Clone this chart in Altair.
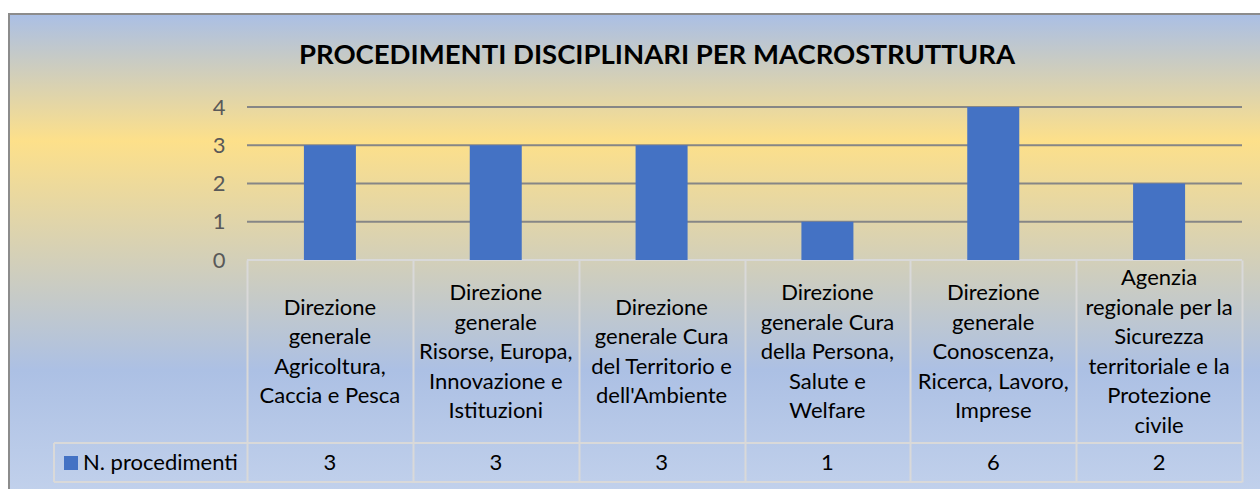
import altair as alt
import pandas as pd

# ---- data ----
categories = [
    "Direzione\ngenerale\nAgricoltura,\nCaccia e Pesca",
    "Direzione\ngenerale\nRisorse, Europa,\nInnovazione e\nIstituzioni",
    "Direzione\ngenerale Cura\ndel Territorio e\ndell'Ambiente",
    "Direzione\ngenerale Cura\ndella Persona,\nSalute e\nWelfare",
    "Direzione\ngenerale\nConoscenza,\nRicerca, Lavoro,\nImprese",
    "Agenzia\nregionale per la\nSicurezza\nterritoriale e la\nProtezione\ncivile",
]
counts = [3, 3, 3, 1, 6, 2]
series_name = "N. procedimenti"
y_ticks = [0, 1, 2, 3, 4]
title_text = "PROCEDIMENTI DISCIPLINARI PER MACROSTRUTTURA"

df = pd.DataFrame({
    "key": [f"c{i}" for i in range(len(categories))],
    "label": categories,
    "value": counts,
    "series": [series_name] * len(categories),
})
ticks_df = pd.DataFrame({"tick": y_ticks})

W, H = 995, 153
FONT = "Lato"
LINE_H = 29.5

xscale = alt.Scale(domain=list(df["key"]), paddingInner=0, paddingOuter=0)
yscale = alt.Scale(domain=[0, 4], nice=False)
yaxis = alt.Axis(values=y_ticks, format="d", domain=False, ticks=False, grid=False,
                 labelPadding=22, labelFontSize=22, labelColor="#595959",
                 labelFont=FONT, labelOverlap=False, labelFlush=False, zindex=1)

gradient = alt.LinearGradient(
    gradient="linear", x1=0, x2=0, y1=0, y2=1,
    stops=[
        alt.GradientStop(offset=0.0, color="#aabfe5"),
        alt.GradientStop(offset=0.26, color="#fde08a"),
        alt.GradientStop(offset=0.73, color="#acc0e4"),
        alt.GradientStop(offset=1.0, color="#c3d2ec"),
    ],
)

one = alt.Data(values=[{"a": 1}])

bg = alt.Chart(one).mark_rect(fill=gradient, stroke="#8c8c8c", strokeWidth=2).encode(
    x=alt.value(-238), x2=alt.value(1100), y=alt.value(-93), y2=alt.value(395)
)

grid = alt.Chart(ticks_df).mark_rule(strokeWidth=2).encode(
    y=alt.Y("tick:Q", scale=yscale, title=None, axis=yaxis),
    color=alt.condition("datum.tick === 0", alt.value("#d9d9d9"), alt.value("#868686")),
)

bars = alt.Chart(df).mark_bar(size=52, clip=True).encode(
    x=alt.X("key:N", scale=xscale, sort=None, title=None,
            axis=alt.Axis(labels=False, domain=False, ticks=True, tickSize=222,
                          tickColor="#d9d9d9", tickWidth=2, tickBand="extent",
                          grid=False, orient="bottom", zindex=1)),
    y=alt.Y("value:Q", scale=yscale, title=None, axis=yaxis),
    color=alt.Color("series:N", scale=alt.Scale(range=["#4472c4"]), title=None,
                    legend=alt.Legend(orient="none", legendX=-187, legendY=345,
                                      symbolType="square", symbolSize=196,
                                      symbolStrokeWidth=0, labelFontSize=22,
                                      labelFont=FONT, labelColor="#000000",
                                      labelOffset=1, padding=0)),
)

cat_text = alt.Chart(df).transform_calculate(
    nl="length(split(datum.label, '\\n'))"
).transform_calculate(
    ty=f"245 - (datum.nl - 1) * {LINE_H / 2}"
).mark_text(
    font=FONT, fontSize=22, color="#000000", lineBreak="\n", lineHeight=LINE_H,
    baseline="middle", align="center"
).encode(
    x=alt.X("key:N", scale=xscale, sort=None),
    y=alt.Y("ty:Q", scale=None),
    text="label:N",
)

val_text = alt.Chart(df).mark_text(
    font=FONT, fontSize=22, color="#000000", baseline="middle", align="center"
).encode(x=alt.X("key:N", scale=xscale, sort=None), y=alt.value(355.5), text="value:Q")

title = alt.Chart(alt.Data(values=[{"t": title_text}])).mark_text(
    font=FONT, fontSize=27.5, fontWeight="bold", color="#000000",
    baseline="alphabetic", align="center"
).encode(x=alt.value(410), y=alt.value(-43), text="t:N")

line_style = dict(color="#d9d9d9", strokeWidth=2)
hline1 = alt.Chart(one).mark_rule(**line_style).encode(
    x=alt.value(-193), x2=alt.value(W), y=alt.value(336))
hline2 = alt.Chart(one).mark_rule(**line_style).encode(
    x=alt.value(-193), x2=alt.value(W), y=alt.value(375))
vline = alt.Chart(one).mark_rule(**line_style).encode(
    x=alt.value(-193), y=alt.value(336), y2=alt.value(375))

chart = alt.layer(bg, grid, bars, cat_text, val_text, title, hline1, hline2, vline).properties(
    width=W, height=H,
    autosize=alt.AutoSizeParams(type="none"),
    padding={"left": 247, "top": 107, "right": 18, "bottom": 229},
    background="#ffffff",
).configure_view(stroke=None)

chart.save("out.html", embed_options={"renderer": "svg", "actions": False})
